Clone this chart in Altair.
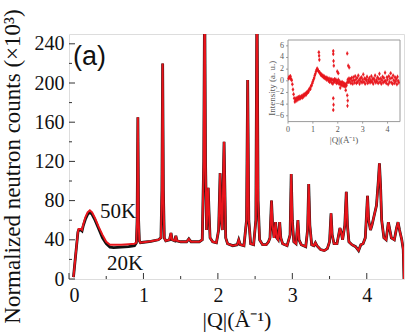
import altair as alt
import pandas as pd

# ---------------- main pattern (50 K, red) ----------------
red_q = [0.06, 0.09, 0.12, 0.13, 0.16, 0.175, 0.19, 0.22, 0.25, 0.28, 0.31, 0.35, 0.40, 0.45, 0.50,
         0.55, 0.60, 0.70, 0.80, 0.88, 0.905, 0.915, 0.925, 0.935, 0.945, 0.96, 1.00, 1.10, 1.20,
         1.235, 1.248, 1.258, 1.268, 1.28, 1.30, 1.35, 1.37, 1.385, 1.42, 1.435, 1.45, 1.50, 1.58,
         1.61, 1.64, 1.75, 1.79, 1.81, 1.822, 1.834, 1.848, 1.862, 1.87, 1.88, 1.895, 1.93, 1.98,
         2.01, 2.03, 2.045, 2.06, 2.075, 2.083, 2.092, 2.105, 2.13, 2.20, 2.26, 2.28, 2.30, 2.35,
         2.385, 2.40, 2.415, 2.44, 2.48, 2.51, 2.525, 2.54, 2.56, 2.60, 2.65, 2.68, 2.70, 2.72,
         2.735, 2.755, 2.775, 2.79, 2.81, 2.83, 2.845, 2.87, 2.93, 2.97, 2.985, 3.00, 3.02, 3.05,
         3.075, 3.09, 3.12, 3.18, 3.205, 3.22, 3.235, 3.26, 3.29, 3.31, 3.33, 3.38, 3.43, 3.47,
         3.50, 3.52, 3.535, 3.56, 3.60, 3.64, 3.655, 3.675, 3.705, 3.725, 3.74, 3.76, 3.80, 3.85,
         3.89, 3.92, 3.95, 3.98, 4.01, 4.025, 4.05, 4.07, 4.10, 4.13, 4.155, 4.17, 4.185, 4.20,
         4.23, 4.26, 4.29, 4.31, 4.33, 4.37, 4.40, 4.42, 4.44, 4.47, 4.49, 4.50]
red_i = [2, 25, 48, 51, 51, 50, 55, 63, 68, 70, 68, 62, 53, 45, 38,
         35, 35, 35, 35.5, 36, 37, 60, 165, 60, 39, 37, 37.5, 38.5, 40,
         42, 90, 220, 90, 42, 39, 40, 47, 40, 39, 44, 39, 38, 38,
         41, 38, 38, 40, 120, 300, 120, 50, 80, 93, 70, 42, 38, 37,
         50, 108, 60, 50, 110, 140, 100, 42, 36, 34, 35, 40, 35, 34,
         60, 203, 60, 36, 35, 60, 300, 80, 40, 35, 35, 38, 42, 80,
         55, 42, 58, 42, 40, 58, 42, 36, 34, 45, 107, 60, 38, 36,
         60, 40, 35, 33, 50, 97, 55, 35, 34, 37, 34, 30, 29, 31,
         38, 67, 45, 36, 36, 52, 48, 40, 55, 89, 55, 38, 35, 33,
         29, 35, 36, 42, 85, 60, 50, 55, 65, 75, 100, 118, 95, 60,
         42, 40, 58, 50, 42, 40, 52, 58, 50, 40, 30, 0]

# ---------------- 20 K (black): differs only at low Q ----------------
black_low_q = [0.06, 0.09, 0.12, 0.13, 0.16, 0.175, 0.19, 0.22, 0.25, 0.28, 0.31, 0.35, 0.40,
               0.45, 0.50, 0.55, 0.60, 0.70, 0.80, 0.88]
black_low_i = [2, 25, 48, 50, 50, 49, 54, 61, 66, 68, 66, 60, 51,
               42, 36, 32.5, 32, 32.5, 33, 34]
split = red_q.index(0.905)
black_q = black_low_q + red_q[split:]
black_i = black_low_i + red_i[split:]

# ---------------- inset: difference pattern ----------------
inset_step = 0.025
inset_v = [0.4, 0.7, 0.5, 0.8, 0.3, 0.1, -0.6, -1.5, -2.3, -3.0, -3.6, -3.3, -3.0, -3.4, -2.9, -3.2,
           -2.8, -3.1, -2.7, -3.0, -2.8, -2.6, -2.9, -2.5, -2.7, -2.3, -2.5, -2.2, -2.4, -2.0, -2.1,
           -1.8, -1.9, -1.5, -1.3, -1.4, -0.9, -0.8, -0.4, -0.1, 0.2, 0.5, 0.9, 1.2, 1.6, 1.9, 2.1,
           1.8, 1.7, 1.5, 1.4, 1.2, 1.0, 1.1, 0.8, 0.9, 0.6, 0.8, 0.5, 0.4, 0.6, 0.2, 0.5, 0.3, 0.0,
           0.4, -0.2, 0.1, 0.3, -0.3, 0.2, -0.5, 0.1, -0.2, 0.3, -0.1, 0.2, -0.4, 0.0, -0.3, 0.2,
           -0.5, -0.1, -0.6, -0.3, -0.7, -0.2, -0.8, -0.4, -0.9, -0.5, -1.0, -0.6, -0.8, -0.3, 0.2,
           -0.2, 0.4, -0.1, 0.3, -0.4, 0.5, 0.0, -0.5, 0.6, 0.1, -0.3, 0.8, 0.2, -0.4, 0.5, -0.2,
           0.9, 0.1, -0.5, 0.4, -0.1, 0.6, -0.3, 0.2, 1.1, -0.2, 0.4, -0.5, 0.3, 0.0, 0.7, -0.4,
           0.2, -0.1, 0.5, -0.3, 0.1, 0.8, -0.2, 0.3, -0.5, 0.4, 0.0, 0.9, -0.3, 0.2, -0.1, 0.6,
           -0.4, 0.3, 1.2, -0.2, 0.4, -0.5, 0.1, 0.7, -0.3, 0.5, -0.1, 1.4, 0.0, -0.4, 0.6, 0.2,
           -0.6, 0.8, -0.2, 0.4, 1.3, -0.3, 0.5, -0.5, 0.9, 0.1, -0.4, 0.6, -0.1, 0.3, -0.6, 0.7,
           0.0, -0.3]
inset_q = [round((k + 1) * inset_step, 3) for k in range(len(inset_v))]
outlier_q = [1.24, 1.25, 1.26, 1.82, 1.82, 1.83, 1.84, 1.82, 1.83, 1.82, 1.98, 2.02, 2.38, 2.42,
             2.46, 2.38, 2.40, 2.39, 2.10, 2.32]
outlier_v = [4.9, 4.3, 3.6, 5.1, 4.6, 3.4, 2.6, -3.0, -4.1, -5.0, 1.6, 1.3, 4.7, 2.6,
             2.3, -2.5, -3.4, -4.3, -1.2, -1.6]

# ---------------- axes / labels ----------------
x_major = [0, 1, 2, 3, 4]
x_minor = [0.5, 1.5, 2.5, 3.5]
y_major = [0, 40, 80, 120, 160, 200, 240]
y_minor = [20, 60, 100, 140, 180, 220]
inset_xt = [0, 1, 2, 3, 4]
inset_yt = [-6, -4, -2, 0, 2, 4, 6]

label_text = ["50K", "20K"]
label_q = [0.415, 0.51]
label_i = [68.7, 15.8]

SERIF = "Liberation Serif"
RED = "#e8141b"

XS = alt.Scale(domain=[0, 4.5], nice=False, zero=False)
YS = alt.Scale(domain=[0, 250], nice=False, zero=False)
IXS = alt.Scale(domain=[0, 4.5], range=[219, 331], nice=False, zero=False)
IYS = alt.Scale(domain=[-7, 7], range=[87.6, 6], nice=False, zero=False)

red_df = pd.DataFrame({"q": red_q, "I": red_i})
black_df = pd.DataFrame({"q": black_q, "I": black_i})
inset_df = pd.DataFrame({"q": inset_q + outlier_q, "v": inset_v + outlier_v})

black_line = alt.Chart(black_df).mark_line(color="#111111", strokeWidth=2.8, clip=True).encode(
    x=alt.X("q:Q", scale=XS, axis=alt.Axis(
        values=x_major, ticks=False, tickSize=0, domain=False, grid=False,
        labelFont=SERIF, labelFontSize=20, labelColor="#111", labelPadding=6,
        title="|Q|(Å⁻¹)", titleFont=SERIF, titleFontSize=22, titleFontWeight="normal",
        titleColor="#111", titlePadding=4)),
    y=alt.Y("I:Q", scale=YS, axis=alt.Axis(
        values=y_major, ticks=False, tickSize=0, domain=False, grid=False,
        labelFont=SERIF, labelFontSize=20, labelColor="#111", labelPadding=5,
        title="Normalized neutron counts (×10³)", titleFont=SERIF, titleFontSize=23,
        titleFontWeight="normal", titleColor="#111", titlePadding=10, titleY=132)),
    order="q:Q",
)
red_line = alt.Chart(red_df).mark_line(color=RED, strokeWidth=2.0, clip=True).encode(
    x=alt.X("q:Q", scale=XS, axis=None),
    y=alt.Y("I:Q", scale=YS, axis=None),
    order="q:Q",
)

def xticks(vals, length):
    return alt.Chart(pd.DataFrame({"t": vals})).mark_rule(color="#333", strokeWidth=1).encode(
        x=alt.X("t:Q", scale=XS, axis=None), y=alt.value(245), y2=alt.value(245 - length))

def yticks(vals, length):
    return alt.Chart(pd.DataFrame({"t": vals})).mark_rule(color="#333", strokeWidth=1).encode(
        y=alt.Y("t:Q", scale=YS, axis=None), x=alt.value(0), x2=alt.value(length))

labels = alt.Chart(pd.DataFrame({"q": label_q, "I": label_i, "t": label_text})).mark_text(
    font=SERIF, fontSize=21, align="left", baseline="middle", color="#111").encode(
    x=alt.X("q:Q", scale=XS, axis=None), y=alt.Y("I:Q", scale=YS, axis=None), text="t:N")

panel = alt.Chart(pd.DataFrame({"q": [0.054], "I": [227], "t": ["(a)"]})).mark_text(
    font="Liberation Sans", fontSize=27, align="left", baseline="middle", color="#111").encode(
    x=alt.X("q:Q", scale=XS, axis=None), y=alt.Y("I:Q", scale=YS, axis=None), text="t:N")

# ---------------- inset layers ----------------
inset_frame = alt.Chart(pd.DataFrame({"a": [0], "b": [4.5], "c": [-7], "d": [7]})).mark_rect(
    fill="white", stroke="#9a9a9a", strokeWidth=1).encode(
    x=alt.X("a:Q", scale=IXS, axis=None), x2="b:Q",
    y=alt.Y("c:Q", scale=IYS, axis=None), y2="d:Q")

inset_err = alt.Chart(inset_df).transform_calculate(
    lo="datum.v - 0.35", hi="datum.v + 0.35").mark_rule(color=RED, strokeWidth=1, opacity=0.8).encode(
    x=alt.X("q:Q", scale=IXS, axis=None),
    y=alt.Y("lo:Q", scale=IYS, axis=None), y2="hi:Q")

inset_pts = alt.Chart(inset_df).mark_circle(color=RED, size=6, opacity=0.9).encode(
    x=alt.X("q:Q", scale=IXS, axis=None),
    y=alt.Y("v:Q", scale=IYS, axis=None))

inset_ylab = alt.Chart(pd.DataFrame({"v": inset_yt, "q": [0] * len(inset_yt)})).mark_text(
    font=SERIF, fontSize=8, align="right", baseline="middle", color="#555", dx=-4).encode(
    x=alt.X("q:Q", scale=IXS, axis=None), y=alt.Y("v:Q", scale=IYS, axis=None), text="v:Q")

inset_xlab = alt.Chart(pd.DataFrame({"q": inset_xt, "v": [-7] * len(inset_xt)})).mark_text(
    font=SERIF, fontSize=8, align="center", baseline="top", color="#555", dy=4).encode(
    x=alt.X("q:Q", scale=IXS, axis=None), y=alt.Y("v:Q", scale=IYS, axis=None), text="q:Q")

inset_yticks = alt.Chart(pd.DataFrame({"v": inset_yt})).mark_rule(color="#888", strokeWidth=0.8).encode(
    y=alt.Y("v:Q", scale=IYS, axis=None), x=alt.value(217), x2=alt.value(219))

inset_xticks = alt.Chart(pd.DataFrame({"q": inset_xt})).mark_rule(color="#888", strokeWidth=0.8).encode(
    x=alt.X("q:Q", scale=IXS, axis=None), y=alt.value(87.6), y2=alt.value(89.6))

inset_xtitle = alt.Chart(pd.DataFrame({"q": [2.25], "v": [-7], "t": ["|Q|(Å⁻¹)"]})).mark_text(
    font=SERIF, fontSize=9, align="center", baseline="top", color="#555", dy=14).encode(
    x=alt.X("q:Q", scale=IXS, axis=None), y=alt.Y("v:Q", scale=IYS, axis=None), text="t:N")

inset_ytitle = alt.Chart(pd.DataFrame({"q": [-0.64], "v": [-1.3], "t": ["Intensity (a. u.)"]})).mark_text(
    font=SERIF, fontSize=9, align="center", baseline="middle", color="#555", angle=270).encode(
    x=alt.X("q:Q", scale=IXS, axis=None), y=alt.Y("v:Q", scale=IYS, axis=None), text="t:N")

chart = alt.layer(
    black_line, red_line,
    xticks(x_major, 6), xticks(x_minor, 3), yticks(y_major, 6), yticks(y_minor, 3),
    labels, panel,
    inset_frame, inset_err, inset_pts, inset_ylab, inset_xlab, inset_yticks, inset_xticks,
    inset_xtitle, inset_ytitle,
).resolve_scale(x="independent", y="independent").properties(
    width=335, height=245,
    autosize=alt.AutoSizeParams(type="none"),
    padding={"left": 69, "top": 34, "right": 3, "bottom": 56},
).configure_view(stroke="#3a3a3a", strokeWidth=1.5).configure(background="white")

chart.save("out.html", embed_options={"renderer": "svg", "actions": False})
